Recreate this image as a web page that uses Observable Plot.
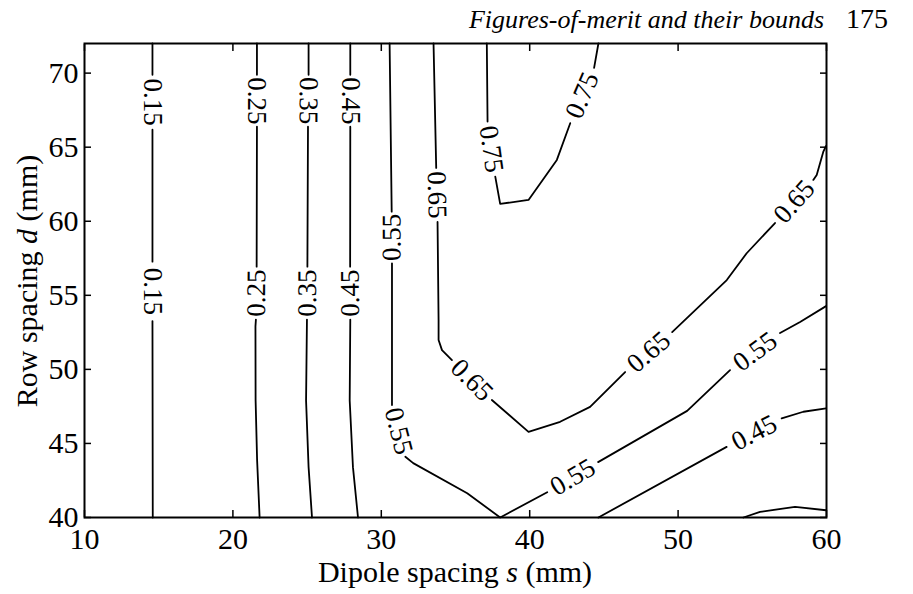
<!DOCTYPE html>
<html>
<head>
<meta charset="utf-8">
<script src="https://cdn.jsdelivr.net/npm/d3@7"></script>
<script src="https://cdn.jsdelivr.net/npm/@observablehq/plot@0.6"></script>
<style>
  body { margin: 0; background: #fff; }
  #wrap { position: relative; width: 913px; height: 594px; overflow: hidden; font-family: "Liberation Serif", "Times New Roman", serif; color: #000; }
  #chart { position: absolute; left: 0; top: 0; }
  #chart svg, #chart svg text { font-family: "Liberation Serif", "Times New Roman", serif !important; }
  .txt { position: absolute; white-space: nowrap; }
</style>
</head>
<body>
<div id="wrap">
  <div id="chart"></div>
  <div class="txt" id="hdr" style="right:25px; top:6px; font-size:26px; line-height:26px;"><i>Figures-of-merit and their bounds</i><span style="margin-left:22px; font-size:28px;">175</span></div>
  <div class="txt" id="xtitle" style="left:455px; top:561px; font-size:30px; line-height:22px; transform:translateX(-50%);">Dipole spacing <i>s</i> (mm)</div>
  <div class="txt" id="ytitle" style="left:27px; top:281px; font-size:30px; line-height:30px; transform:translate(-50%,-50%) rotate(-90deg);">Row spacing <i>d</i> (mm)</div>
</div>
<script>
// Tick values
const xTicks = [10, 20, 30, 40, 50, 60];
const yTicks = [40, 45, 50, 55, 60, 65, 70];

// Contour lines: [s, d] points (mm); null = gap where a label sits
const c015 = [[14.58,72],[14.58,69.89],null,[14.58,66.18],[14.58,57.27],null,[14.58,53.26],[14.6,40]];
const c025 = [[21.62,72],[21.62,69.89],null,[21.62,66.38],[21.6,56.93],null,[21.55,53.36],[21.52,52.9],[21.53,47.9],[21.63,43.9],[21.8,40]];
const c035 = [[25.1,72],[25.1,69.89],null,[25.06,66.38],[25.02,56.93],null,[24.99,53.36],[24.93,47.9],[25.1,43.4],[25.33,40]];
const c045 = [[27.91,72],[27.91,69.89],null,[27.91,66.38],[27.9,56.93],null,[27.91,53.36],[27.87,47.9],[28.09,43.4],[28.43,40]];
const c055 = [[30.56,72],[30.7,60.65],null,[30.72,57.16],[30.72,47.59],null,[31.62,44.1],[32.15,43.67],[35.79,41.64],[38.01,40],[41.18,41.71],null,[44.61,43.74],[50.61,47.2],[53.5,49.95],null,[56.87,52.45],[58.22,53.2],[59.97,54.27]];
const c065 = [[33.52,72],[33.7,63.6],null,[33.79,59.95],[33.86,53.33],[33.86,51.98],[34.09,51.3],[34.76,50.63],null,[37.45,47.93],[39.92,45.78],[42.05,46.46],[44.07,47.47],[46.43,49.82],null,[49.6,52.52],[53.28,56.03],[54.62,57.84],[56.53,59.88],null,[59.11,62.79],[59.34,63.13],[59.78,64.68],[59.97,65.09]];
const c075 = [[37.11,72],[37.16,66.73],null,[37.68,63.01],[38.01,61.17],[39.92,61.44],[41.83,64.14],[42.73,66.62],null,[44.34,70.36],[44.63,72]];
const c045b = [[44.63,40],[53.27,44.77],null,[56.98,46.69],[58.44,47.14],[59.97,47.36]];
const c035b = [[54.4,40],[55.52,40.38],[57.88,40.72],[59.97,40.49]];

// Contour labels: [level, s start, d start, s end, d end] (text runs start -> end)
const labels = [
  [0.15, 14.58,69.89, 14.58,66.18],
  [0.15, 14.58,57.27, 14.58,53.26],
  [0.25, 21.62,69.89, 21.62,66.38],
  [0.25, 21.58,53.36, 21.6,56.93],
  [0.35, 25.1,69.89, 25.08,66.38],
  [0.35, 25.01,53.36, 25.02,56.93],
  [0.45, 27.91,69.89, 27.91,66.38],
  [0.45, 27.91,53.36, 27.9,56.93],
  [0.55, 30.72,57.16, 30.7,60.65],
  [0.55, 30.72,47.59, 31.62,44.1],
  [0.55, 41.18,41.71, 44.61,43.74],
  [0.55, 53.5,49.95, 56.87,52.45],
  [0.65, 33.7,63.6, 33.79,59.95],
  [0.65, 34.76,50.63, 37.45,47.93],
  [0.65, 46.43,49.82, 49.6,52.52],
  [0.65, 56.53,59.88, 59.11,62.79],
  [0.75, 37.16,66.73, 37.68,63.01],
  [0.75, 42.73,66.62, 44.34,70.36],
  [0.45, 53.27,44.77, 56.98,46.69]
];

const contours = [
  ["0.15", c015], ["0.25", c025], ["0.35", c035], ["0.45", c045],
  ["0.55", c055], ["0.65", c065], ["0.75", c075], ["0.45b", c045b], ["0.35b", c035b]
];
const rows = [];
for (const [key, pts] of contours) {
  for (const p of pts) rows.push(p ? {key, s: p[0], d: p[1]} : {key, s: NaN, d: NaN});
}

const FONT = "Liberation Serif";
const base = {
  width: 913, height: 594,
  marginTop: 43, marginLeft: 84, marginRight: 87, marginBottom: 77,
  x: {domain: [10, 60]},
  y: {domain: [40, 72]},
  style: {background: "transparent", overflow: "visible", fontFamily: "'Liberation Serif', serif"}
};

const lineMark = Plot.line(rows, {x: "s", y: "d", z: "key", stroke: "black", strokeWidth: 1.8, strokeLinejoin: "round"});

// First pass to get the plot's own scales, used to orient labels along the lines
const probe = Plot.plot({...base, marks: [lineMark]});
const sx = probe.scale("x"), sy = probe.scale("y");
const labelRows = labels.map(([level, s1, d1, s2, d2]) => {
  const a = Math.atan2(sy.apply(d2) - sy.apply(d1), sx.apply(s2) - sx.apply(s1)) * 180 / Math.PI;
  return {text: level.toFixed(2), s: (s1 + s2) / 2, d: (d1 + d2) / 2, angle: a};
});

const chart = Plot.plot({
  ...base,
  marks: [
    lineMark,
    Plot.text(labelRows, {
      x: "s", y: "d", text: "text", rotate: "angle",
      fontSize: 27, fontFamily: FONT, fill: "black",
      stroke: "white", strokeWidth: 3, paintOrder: "stroke",
      textAnchor: "middle", lineAnchor: "middle"
    }),
    Plot.axisX(xTicks, {anchor: "bottom", tickSize: -7, tickPadding: 17, fontSize: 30, fontFamily: FONT, label: null, stroke: "black", strokeWidth: 1.5}),
    Plot.axisX(xTicks, {anchor: "top", tickSize: -7, tickFormat: () => "", label: null, stroke: "black", strokeWidth: 1.5}),
    Plot.axisY(yTicks, {anchor: "left", tickSize: -7, tickPadding: 13, fontSize: 30, fontFamily: FONT, label: null, stroke: "black", strokeWidth: 1.5}),
    Plot.axisY(yTicks, {anchor: "right", tickSize: -7, tickFormat: () => "", label: null, stroke: "black", strokeWidth: 1.5}),
    Plot.frame({stroke: "black", strokeWidth: 2})
  ]
});
document.getElementById("chart").appendChild(chart);
</script>
</body>
</html>
